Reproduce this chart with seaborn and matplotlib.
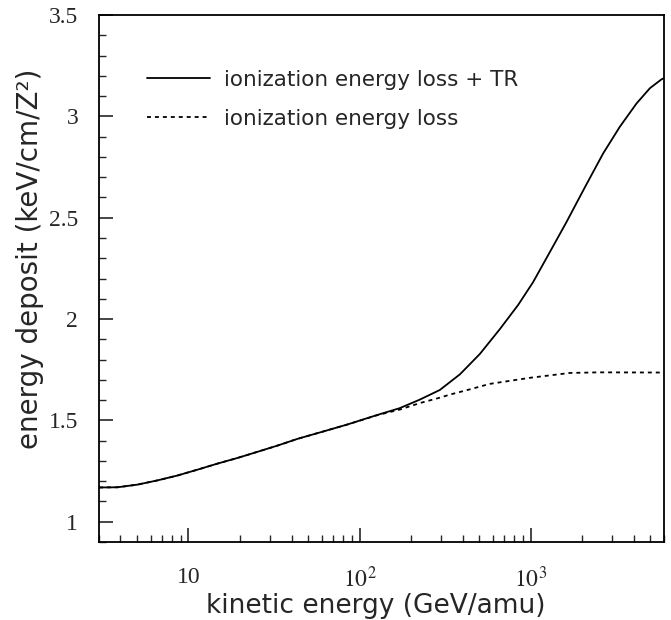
import numpy as np
import pandas as pd
import matplotlib
matplotlib.use("Agg")
import matplotlib.pyplot as plt
import seaborn as sns
from matplotlib.ticker import FixedLocator, FixedFormatter, MultipleLocator, LogLocator, NullFormatter

# ---- data ----
energy_tr = [3.0, 3.85, 5.03, 6.59, 8.62, 11.3, 14.8, 19.4, 25.3, 33.2, 43.4, 60.0, 85.0,
             127.0, 171.0, 224.0, 294.0, 385.0, 503.0, 659.0, 844.0, 1031.0, 1291.0,
             1617.0, 2025.0, 2646.0, 3314.0, 4150.0, 4966.0, 5810.0, 6000.0]
deposit_tr = [1.169, 1.170, 1.183, 1.204, 1.228, 1.257, 1.287, 1.315, 1.345, 1.376, 1.409, 1.443, 1.480,
              1.527, 1.560, 1.602, 1.650, 1.727, 1.827, 1.950, 2.070, 2.182, 2.330,
              2.479, 2.635, 2.817, 2.949, 3.064, 3.139, 3.183, 3.188]

energy_ion = [3.0, 3.85, 5.03, 6.59, 8.62, 11.3, 14.8, 19.4, 25.3, 33.2, 43.4, 60.0, 85.0,
              127.0, 171.0, 224.0, 294.0, 336.0, 440.0, 575.0, 986.0, 1690.0, 2500.0, 6000.0]
deposit_ion = [1.169, 1.170, 1.183, 1.204, 1.228, 1.257, 1.287, 1.315, 1.345, 1.376, 1.409, 1.443, 1.480,
               1.526, 1.553, 1.585, 1.612, 1.627, 1.653, 1.680, 1.710, 1.734, 1.737, 1.736]

label_tr = "ionization energy loss + TR"
label_ion = "ionization energy loss"
xlabel = "kinetic energy (GeV/amu)"
ylabel = "energy deposit (keV/cm/Z²)"
xtick_vals = [10, 100, 1000]
xtick_labels = ["10", r"$10^{2}$", r"$10^{3}$"]
ytick_vals = [1, 1.5, 2, 2.5, 3, 3.5]
ytick_labels = ["1", "1.5", "2", "2.5", "3", "3.5"]

df_tr = pd.DataFrame({"E": energy_tr, "dep": deposit_tr})
df_ion = pd.DataFrame({"E": energy_ion, "dep": deposit_ion})

sns.set_style("ticks")
plt.rcParams["font.family"] = ["DejaVu Sans"]
plt.rcParams["mathtext.fontset"] = "stix"

fig = plt.figure(figsize=(6.71, 6.2), dpi=100)
ax = fig.add_axes([99/671, 1-542/620, (664-99)/671, (542-15)/620])

sns.lineplot(data=df_tr, x="E", y="dep", ax=ax, color="black", lw=1.3,
             label=label_tr, sort=False)
sns.lineplot(data=df_ion, x="E", y="dep", ax=ax, color="black", lw=1.3,
             linestyle=(0, (2.2, 2.2)), label=label_ion, sort=False)

ax.set_xscale("log")
ax.set_xlim(3, 6000)
ax.set_ylim(0.9, 3.5)

serif = "Liberation Serif"
ax.xaxis.set_major_locator(FixedLocator(xtick_vals))
ax.xaxis.set_major_formatter(FixedFormatter(xtick_labels))
ax.xaxis.set_minor_locator(LogLocator(base=10, subs=np.arange(2, 10)))
ax.xaxis.set_minor_formatter(NullFormatter())
ax.yaxis.set_major_locator(FixedLocator(ytick_vals))
ax.yaxis.set_major_formatter(FixedFormatter(ytick_labels))
ax.yaxis.set_minor_locator(MultipleLocator(0.1))

ax.tick_params(axis="both", which="major", direction="in", length=10, width=1.2,
               labelsize=17, top=False, right=False)
ax.tick_params(axis="both", which="minor", direction="in", length=5, width=1.0,
               top=False, right=False)
ax.tick_params(axis="x", which="major", pad=18)
ax.tick_params(axis="y", which="major", pad=15)
for lab in ax.get_xticklabels() + ax.get_yticklabels():
    lab.set_fontfamily(serif)

for s in ax.spines.values():
    s.set_linewidth(1.3)
    s.set_color("black")

ax.set_xlabel(xlabel, fontsize=19)
ax.set_ylabel(ylabel, fontsize=20)
ax.xaxis.set_label_coords(0.49, -0.097)
ax.yaxis.set_label_coords(-0.097, 0.537)

leg = ax.legend(loc="upper left", bbox_to_anchor=(0.051, 0.933), frameon=False,
                fontsize=15.5, handlelength=2.9, handletextpad=0.65, labelspacing=0.88)

fig.savefig("out.png", dpi=100)
